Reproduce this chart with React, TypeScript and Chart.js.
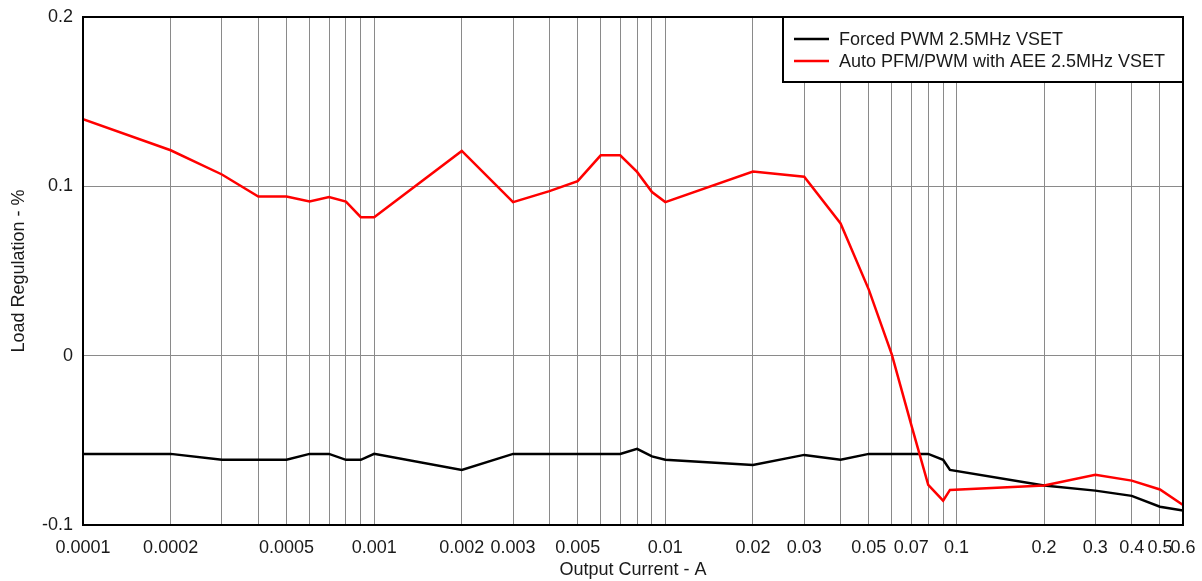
import { Chart, registerables } from "chart.js";
import type { Plugin } from "chart.js";
import { useEffect, useRef } from "react";

Chart.register(...registerables);

const currents = [
  0.0001, 0.0002, 0.0003, 0.0004, 0.0005, 0.0006, 0.0007, 0.0008, 0.0009, 0.001,
  0.002, 0.003, 0.004, 0.005, 0.006, 0.007, 0.008, 0.009, 0.01,
  0.02, 0.03, 0.04, 0.05, 0.06, 0.07, 0.08, 0.09, 0.095,
  0.2, 0.3, 0.4, 0.5, 0.6
];

const forcedPwm = [
  -0.058, -0.058, -0.0615, -0.0615, -0.0615, -0.058, -0.058, -0.0615, -0.0615, -0.058,
  -0.0675, -0.058, -0.058, -0.058, -0.058, -0.058, -0.055, -0.0595, -0.0615,
  -0.0645, -0.0586, -0.0615, -0.058, -0.058, -0.058, -0.058, -0.0615, -0.0675,
  -0.0767, -0.0797, -0.0828, -0.0892, -0.0915
];

const autoPfmPwm = [
  0.1396, 0.1213, 0.107, 0.094, 0.094, 0.091, 0.0937, 0.091, 0.0818, 0.0818,
  0.1209, 0.0907, 0.0972, 0.1031, 0.1183, 0.1183, 0.1085, 0.0966, 0.0907,
  0.1087, 0.1057, 0.0781, 0.039, 0.0006, -0.041, -0.0763, -0.0856, -0.0793,
  -0.0767, -0.0704, -0.0738, -0.079, -0.0882
];

const seriesNames = ["Forced PWM 2.5MHz VSET", "Auto PFM/PWM with AEE 2.5MHz VSET"];
const seriesColors = ["#000000", "#ff0000"];

const xTickLabels = [
  "0.0001", "0.0002", "0.0005", "0.001", "0.002", "0.003", "0.005",
  "0.01", "0.02", "0.03", "0.05", "0.07", "0.1", "0.2", "0.3", "0.4", "0.5", "0.6"
];
const yTickValues = [-0.1, 0, 0.1, 0.2];
const yTickLabels = ["-0.1", "0", "0.1", "0.2"];

const X_MIN = 0.0001;
const X_MAX = 0.6;

// every 1..9 multiple per decade gets a grid line
const xGridValues: number[] = [];
for (let e = -4; e <= -1; e++) {
  for (let k = 1; k <= 9; k++) {
    const v = parseFloat(`${k}e${e}`);
    if (v >= X_MIN && v <= X_MAX + 1e-9) xGridValues.push(v);
  }
}

const FONT = "'Liberation Sans', Arial, sans-serif";
const TEXT = "#1a1a1a";

const frameAndLegend: Plugin<"line"> = {
  id: "frameAndLegend",
  afterDraw(chart) {
    const { ctx, chartArea } = chart;
    ctx.save();
    ctx.strokeStyle = "#000";
    ctx.lineWidth = 2;
    ctx.strokeRect(chartArea.left, chartArea.top, chartArea.right - chartArea.left, chartArea.bottom - chartArea.top);

    const w = 400;
    const h = 65;
    const x = chartArea.right - w;
    const y = chartArea.top;
    ctx.fillStyle = "#fff";
    ctx.fillRect(x, y, w, h);
    ctx.strokeRect(x, y, w, h);

    ctx.font = `18px ${FONT}`;
    ctx.textBaseline = "middle";
    ctx.textAlign = "left";
    seriesNames.forEach((name, i) => {
      const ly = y + 22 + i * 22;
      ctx.strokeStyle = seriesColors[i];
      ctx.lineWidth = 2.5;
      ctx.beginPath();
      ctx.moveTo(x + 11, ly);
      ctx.lineTo(x + 46, ly);
      ctx.stroke();
      ctx.fillStyle = TEXT;
      ctx.fillText(name, x + 56, ly + 1);
    });
    ctx.restore();
  }
};

export default function App() {
  const canvasRef = useRef<HTMLCanvasElement | null>(null);

  useEffect(() => {
    if (!canvasRef.current) return undefined;

    const chart = new Chart(canvasRef.current, {
      type: "line",
      data: {
        datasets: [
          {
            label: seriesNames[0],
            data: currents.map((c, i) => ({ x: c, y: forcedPwm[i] })),
            borderColor: seriesColors[0],
            borderWidth: 2.5,
            pointRadius: 0,
            tension: 0,
            order: 1
          },
          {
            label: seriesNames[1],
            data: currents.map((c, i) => ({ x: c, y: autoPfmPwm[i] })),
            borderColor: seriesColors[1],
            borderWidth: 2.5,
            pointRadius: 0,
            tension: 0,
            order: 0
          }
        ]
      },
      options: {
        animation: false,
        responsive: true,
        maintainAspectRatio: false,
        layout: { padding: { top: 17, right: 19, left: 0, bottom: 0 } },
        plugins: {
          legend: { display: false },
          tooltip: { enabled: false }
        },
        scales: {
          x: {
            type: "logarithmic",
            min: X_MIN,
            max: X_MAX,
            afterBuildTicks: (scale) => {
              scale.ticks = xGridValues.map((v) => ({ value: v }));
            },
            afterFit: (scale) => {
              scale.height = 56;
              scale.paddingLeft = 0;
              scale.paddingRight = 0;
            },
            border: { display: false },
            grid: { color: "#8a8a8a", lineWidth: 1, drawTicks: false },
            ticks: {
              autoSkip: false,
              maxRotation: 0,
              minRotation: 0,
              padding: 12,
              color: TEXT,
              font: { family: FONT, size: 18 },
              callback: (value) => {
                const s = String(value);
                return xTickLabels.includes(s) ? s : "";
              }
            },
            title: {
              display: true,
              text: "Output Current - A",
              color: TEXT,
              font: { family: FONT, size: 18 },
              padding: { top: 0, bottom: 0 }
            }
          },
          y: {
            min: -0.1,
            max: 0.2,
            afterBuildTicks: (scale) => {
              scale.ticks = yTickValues.map((v) => ({ value: v }));
            },
            afterFit: (scale) => {
              scale.width = 83;
              scale.paddingTop = 0;
              scale.paddingBottom = 0;
            },
            border: { display: false },
            grid: { color: "#8a8a8a", lineWidth: 1, drawTicks: false },
            ticks: {
              padding: 10,
              color: TEXT,
              font: { family: FONT, size: 18 },
              callback: (value) => {
                const idx = yTickValues.findIndex((v) => Math.abs(v - Number(value)) < 1e-9);
                return idx >= 0 ? yTickLabels[idx] : "";
              }
            },
            title: {
              display: true,
              text: "Load Regulation - %",
              color: TEXT,
              font: { family: FONT, size: 18 },
              padding: { top: 8, bottom: 0 }
            }
          }
        }
      },
      plugins: [frameAndLegend]
    });

    return () => chart.destroy();
  }, []);

  return (
    <div style={{ position: "fixed", left: 0, top: 0, width: 1202, height: 581, background: "#fff" }}>
      <canvas ref={canvasRef} />
    </div>
  );
}
